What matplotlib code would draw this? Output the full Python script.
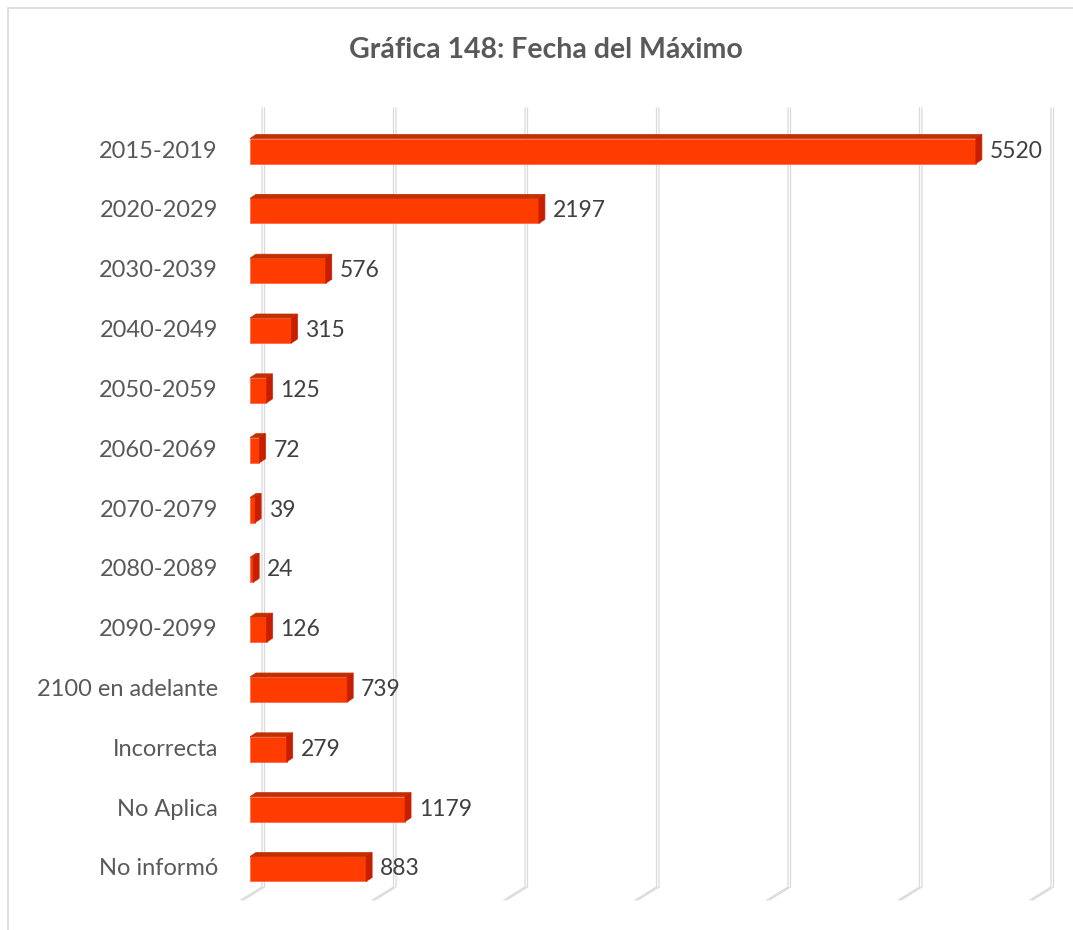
import numpy as np
import matplotlib.pyplot as plt
from matplotlib.patches import Polygon, Rectangle

plt.rcParams['font.family'] = ['Lato', 'DejaVu Sans']

categories = ['2015-2019', '2020-2029', '2030-2039', '2040-2049', '2050-2059',
              '2060-2069', '2070-2079', '2080-2089', '2090-2099',
              '2100 en adelante', 'Incorrecta', 'No Aplica', 'No informó']
values = [5520, 2197, 576, 315, 125, 72, 39, 24, 126, 739, 279, 1179, 883]
grid_ticks = [0, 1000, 2000, 3000, 4000, 5000, 6000]

W, H = 1073, 930
fig = plt.figure(figsize=(W / 100, H / 100), dpi=100)

# outer chart border
fig.patches.append(Rectangle((8 / W, -0.05), 1.1, 1 - 8 / H + 0.05, transform=fig.transFigure,
                             fill=False, edgecolor='#d9d9d9', lw=1.2))

# axes placed in pixels: front face of zero at x=250
x0, x1 = 250, 1060
ytop, ybot = 95, 905
ax = fig.add_axes([x0 / W, 1 - ybot / H, (x1 - x0) / W, (ybot - ytop) / H])
pxu = 131.5 / 1000.0          # px per data unit
spc = 59.8                   # px per category
ax.set_xlim(0, (x1 - x0) / pxu)
ax.set_ylim(12 + (ybot - 869) / spc, -(151 - ytop) / spc)
ax.axis('off')

y = np.arange(len(categories))
h = 25 / spc
ddx, ddy = 6 / pxu, 4 / spc

# back wall gridlines (double lines) + floor
gdx = 12 / pxu
g_top = -(151 - 108) / spc
g_bot = 12 + (887 - 869) / spc
f_dx, f_dy = -21 / pxu, 13 / spc
for t in grid_ticks:
    for off in (0, 2.5 / pxu):
        gx = t + gdx + off
        ax.plot([gx, gx, gx + f_dx], [g_top, g_bot, g_bot + f_dy],
                color='#d9d9d9', lw=0.9, clip_on=False, zorder=1)

# bars: front face + top and side faces
ax.barh(y, values, height=h, color='#ff3c00', edgecolor='#ff6a4a', lw=0.6, zorder=3)
for yi, v in zip(y, values):
    top = yi - h / 2
    bot = yi + h / 2
    ax.add_patch(Polygon([(0, top), (v, top), (v + ddx, top - ddy), (ddx, top - ddy)],
                         closed=True, facecolor='#c23000', edgecolor='#c23000', lw=0.5, zorder=3))
    ax.add_patch(Polygon([(v, top), (v, bot), (v + ddx, bot - ddy), (v + ddx, top - ddy)],
                         closed=True, facecolor='#c81e00', edgecolor='#c81e00', lw=0.5, zorder=3))
    ax.text(v + ddx + 8 / pxu, yi, str(v), va='center', ha='left',
            fontsize=16.5, color='#404040', zorder=4)
    ax.text(-32 / pxu, yi, categories[yi], va='center', ha='right',
            fontsize=17, color='#595959', clip_on=False)

fig.text(546 / W, 1 - 50 / H, 'Gráfica 148: Fecha del Máximo', ha='center', va='center',
         fontsize=20.5, fontweight='bold', color='#595959')

fig.savefig('out.png', dpi=100)
